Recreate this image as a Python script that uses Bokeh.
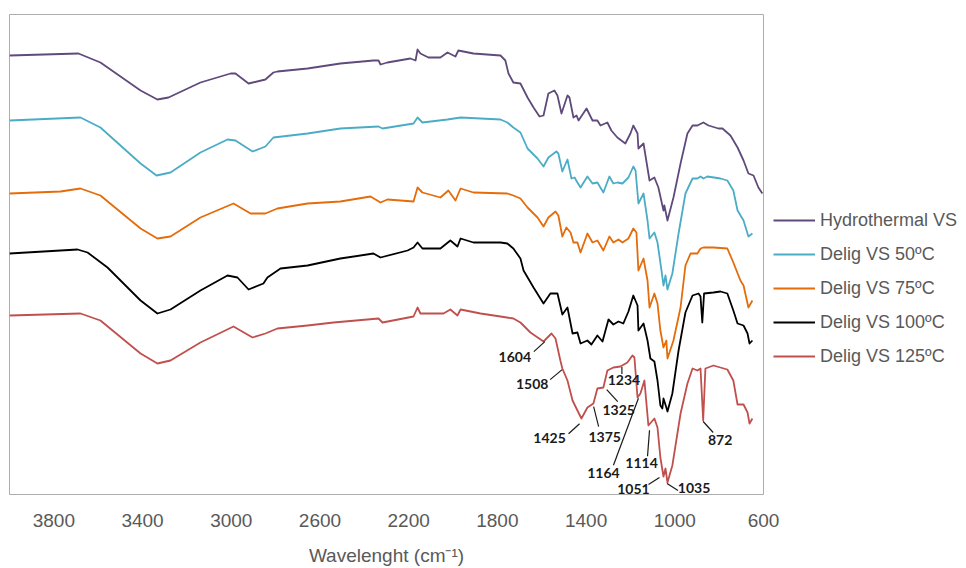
import numpy as np
from bokeh.plotting import figure
from bokeh.models import Range1d, FixedTicker, Legend, LegendItem, ColumnDataSource
from bokeh.core.properties import value
from bokeh.embed import file_html
from bokeh.resources import INLINE

# ---------------- data (wavenumber cm-1, transmittance a.u. with offsets) ----------------
series_names = ["Hydrothermal VS", "Delig VS 50ºC", "Delig VS 75ºC", "Delig VS 100ºC", "Delig VS 125ºC"]

wn_hydro = [4000, 3689, 3590, 3409, 3333, 3283, 3139, 3003, 2981, 2922, 2846, 2810, 2792, 2656, 2508, 2359, 2336,
            2327, 2296, 2192, 2169, 2160, 2147, 2111, 2057, 2025, 1989, 1976, 1908, 1786, 1764, 1750, 1728, 1696,
            1664, 1637, 1610, 1592, 1570, 1543, 1529, 1511, 1484, 1475, 1457, 1443, 1434, 1398, 1371, 1349, 1335,
            1304, 1286, 1259, 1223, 1200, 1187, 1168, 1164, 1141, 1114, 1092, 1074, 1051, 1047, 1033, 1006, 974,
            943, 920, 898, 871, 848, 803, 785, 749, 717, 690, 668, 645, 623, 605]
t_hydro = [439, 441, 432, 404, 395, 397, 412, 421, 421, 411, 415, 422, 423, 426, 431, 434, 434, 430, 432, 436, 434,
           445, 441, 437, 437, 442, 438, 444, 441, 439, 434, 421, 412, 411, 397, 387, 378, 379, 401, 404, 399, 381,
           399, 397, 377, 379, 374, 386, 374, 374, 369, 372, 364, 357, 351, 361, 369, 361, 346, 351, 314, 317, 307,
           284, 289, 274, 297, 331, 361, 369, 369, 372, 369, 366, 366, 359, 347, 334, 321, 319, 307, 301]

wn_50 = [4000, 3680, 3590, 3409, 3337, 3274, 3139, 3017, 2981, 2904, 2846, 2810, 2656, 2508, 2336, 2318, 2178, 2160,
         2138, 2025, 1966, 1786, 1755, 1728, 1696, 1664, 1619, 1592, 1570, 1534, 1525, 1507, 1484, 1466, 1452, 1439,
         1425, 1394, 1371, 1349, 1322, 1295, 1277, 1259, 1236, 1209, 1187, 1177, 1164, 1141, 1123, 1114, 1092, 1078,
         1060, 1051, 1042, 1033, 1011, 983, 952, 920, 898, 884, 871, 853, 794, 763, 736, 717, 690, 668, 650]
t_50 = [374, 377, 367, 331, 319, 322, 342, 355, 354, 343, 348, 357, 361, 366, 368, 366, 371, 377, 372, 375, 377, 375,
        372, 367, 362, 346, 336, 328, 337, 343, 341, 323, 335, 316, 317, 312, 307, 318, 311, 312, 302, 318, 311, 312,
        311, 317, 328, 324, 291, 301, 274, 256, 262, 252, 224, 209, 219, 205, 221, 261, 301, 316, 316, 318, 316, 318,
        316, 314, 304, 284, 274, 258, 261]

wn_75 = [4000, 3770, 3680, 3590, 3409, 3333, 3274, 3139, 2990, 2913, 2846, 2792, 2656, 2508, 2372, 2327, 2296, 2178,
         2160, 2138, 2057, 2021, 1989, 1966, 1908, 1755, 1728, 1696, 1664, 1619, 1592, 1570, 1538, 1525, 1507, 1489,
         1470, 1457, 1439, 1425, 1394, 1371, 1349, 1322, 1295, 1277, 1254, 1236, 1209, 1187, 1173, 1164, 1141, 1123,
         1114, 1092, 1078, 1065, 1051, 1038, 1033, 1006, 974, 952, 929, 898, 884, 871, 826, 763, 736, 704, 690, 668, 650]
t_75 = [301, 303, 306, 299, 266, 256, 258, 277, 291, 281, 281, 286, 291, 293, 298, 292, 295, 293, 307, 302, 297, 304,
        294, 306, 302, 301, 299, 296, 287, 277, 268, 277, 283, 279, 258, 267, 262, 252, 252, 242, 261, 252, 254, 244,
        258, 252, 255, 252, 256, 266, 262, 224, 236, 214, 187, 201, 191, 164, 147, 154, 136, 154, 187, 229, 241, 241,
        246, 247, 247, 246, 232, 214, 209, 187, 194]

wn_100 = [4000, 3693, 3648, 3558, 3409, 3333, 3274, 3139, 3017, 2972, 2922, 2855, 2837, 2778, 2656, 2508, 2359, 2327,
          2205, 2178, 2160, 2138, 2057, 2012, 1980, 1966, 1908, 1786, 1755, 1728, 1696, 1682, 1637, 1592, 1561, 1529,
          1507, 1484, 1461, 1439, 1425, 1394, 1376, 1349, 1326, 1299, 1277, 1254, 1232, 1209, 1187, 1168, 1164, 1141,
          1123, 1110, 1092, 1078, 1065, 1056, 1051, 1038, 1033, 1011, 983, 952, 920, 893, 884, 876, 868, 826, 794, 763,
          736, 717, 690, 672, 663, 650]
t_100 = [241, 245, 242, 227, 194, 181, 185, 204, 219, 217, 205, 211, 217, 226, 229, 236, 241, 237, 244, 247, 252, 246,
         246, 254, 248, 256, 252, 252, 251, 246, 236, 224, 207, 191, 201, 201, 180, 187, 161, 162, 151, 154, 150, 159,
         153, 175, 170, 173, 171, 183, 199, 189, 164, 171, 154, 136, 133, 114, 89, 86, 96, 87, 83, 101, 144, 182, 199,
         201, 198, 172, 201, 202, 203, 201, 184, 171, 169, 161, 151, 154]

wn_125 = [4000, 3680, 3590, 3409, 3333, 3274, 3139, 2990, 2904, 2846, 2792, 2656, 2539, 2336, 2318, 2178, 2160, 2147,
          2043, 2012, 1980, 1966, 1876, 1786, 1728, 1696, 1651, 1592, 1556, 1538, 1516, 1507, 1484, 1461, 1439, 1421,
          1394, 1367, 1349, 1322, 1304, 1277, 1245, 1214, 1191, 1182, 1168, 1155, 1137, 1119, 1092, 1078, 1065, 1051,
          1042, 1033, 1011, 974, 943, 920, 898, 884, 872, 862, 826, 763, 736, 717, 690, 672, 663, 650]
t_125 = [179, 181, 174, 141, 131, 134, 152, 168, 157, 161, 166, 169, 172, 176, 172, 178, 187, 181, 181, 185, 179, 185,
         181, 178, 176, 172, 162, 153, 161, 156, 134, 126, 114, 94, 84, 76, 87, 91, 106, 107, 124, 127, 128, 132, 139,
         137, 97, 101, 114, 69, 76, 67, 37, 18, 26, 12, 29, 81, 111, 126, 124, 126, 74, 126, 129, 125, 114, 90, 90, 82,
         71, 76]

x_ticks = [3800, 3400, 3000, 2600, 2200, 1800, 1400, 1000, 600]

# peak labels on the 125 ºC spectrum
peak_labels = [1604, 1508, 1425, 1375, 1325, 1234, 1164, 1114, 1051, 1035, 872]

# ---------------- layout / style ----------------
colors = ["#604A7B", "#4BACC6", "#E46C0A", "#000000", "#C0504D"]
FRAME_W, FRAME_H = 754, 480
X0, X1, Y0, Y1 = 4000, 600, 0, 480
# screen offsets (px, y down) of leader line start/end and label centre from each peak point
line_start = [(4, 2), (0, 2), (-1, 7), (2, 2), (4, 2), (-1, 2), (0, 2), (0, 6), (-4, 1), (0, 4), (0, 1)]
line_end = [(-7, 12), (-12, 12), (-12, 17), (7, 22), (15, 14), (-1, 9), (-25, 69), (-2, 32), (-15, 8), (11, 11), (10, 12)]
text_pos = [(-26, 17), (-30, 16), (-31, 21), (13, 32), (16, 22), (1, 15), (-35, 77), (-8, 39), (-30, 12), (27, 9), (17, 19)]

p = figure(frame_width=FRAME_W, frame_height=FRAME_H, x_range=Range1d(X0, X1), y_range=Range1d(Y0, Y1),
           output_backend="svg", toolbar_location=None, y_axis_location=None,
           min_border_left=9, min_border_right=200, min_border_top=14, min_border_bottom=74)
p.background_fill_color = "white"
p.border_fill_color = "white"
p.outline_line_color = "#ADADAD"
p.outline_line_width = 1
p.xgrid.visible = False
p.ygrid.visible = False

ax = p.xaxis[0]
ax.ticker = FixedTicker(ticks=x_ticks)
ax.axis_line_color = None
ax.major_tick_line_color = None
ax.minor_tick_line_color = None
ax.major_tick_out = 0
ax.major_tick_in = 0
ax.major_label_standoff = 19
ax.major_label_text_font = "Liberation Sans"
ax.major_label_text_font_size = "19px"
ax.major_label_text_color = "#595959"
ax.axis_label = "Wavelenght (cm⁻¹)"
ax.axis_label_standoff = 15
ax.axis_label_text_font = "Liberation Sans"
ax.axis_label_text_font_size = "19px"
ax.axis_label_text_font_style = "normal"
ax.axis_label_text_color = "#595959"

all_wn = [wn_hydro, wn_50, wn_75, wn_100, wn_125]
all_t = [t_hydro, t_50, t_75, t_100, t_125]
renderers = []
for wn, t, c in zip(all_wn, all_t, colors):
    r = p.line(wn, t, line_color=c, line_width=1.8, line_join="round")
    renderers.append(r)

legend = Legend(items=[LegendItem(label=n, renderers=[r]) for n, r in zip(series_names, renderers)],
                location=(10, 127))
legend.label_text_font = "Liberation Sans"
legend.label_text_font_size = "18px"
legend.label_text_color = "#595959"
legend.glyph_width = 42
legend.glyph_height = 22
legend.label_height = 22
legend.label_standoff = 5
legend.spacing = 12
legend.padding = 0
legend.margin = 0
legend.border_line_color = None
legend.background_fill_alpha = 0
p.add_layout(legend, "right")

# peak annotations
sx = (X0 - X1) / FRAME_W     # wavenumber per px (axis reversed)
sy = (Y1 - Y0) / FRAME_H
wn_r = np.array(wn_125[::-1], dtype=float)
t_r = np.array(t_125[::-1], dtype=float)
anchors_y = np.interp(np.array(peak_labels, dtype=float), wn_r, t_r)
x0s, y0s, x1s, y1s, txs, tys = [], [], [], [], [], []
for pk, ay, s, e, tp in zip(peak_labels, anchors_y, line_start, line_end, text_pos):
    x0s.append(pk - s[0] * sx); y0s.append(ay - s[1] * sy)
    x1s.append(pk - e[0] * sx); y1s.append(ay - e[1] * sy)
    txs.append(pk - tp[0] * sx); tys.append(ay - tp[1] * sy)
p.segment(x0=x0s, y0=y0s, x1=x1s, y1=y1s, line_color="#1a1a1a", line_width=1.2)
src = ColumnDataSource(dict(x=txs, y=tys, text=[str(v) for v in peak_labels]))
p.text(x="x", y="y", text="text", source=src, text_font=value("Lato"), text_font_style="bold",
       text_font_size="14px", text_color="#1a1a1a", text_align="center", text_baseline="middle")

open("out.html", "w").write(file_html(p, INLINE))
